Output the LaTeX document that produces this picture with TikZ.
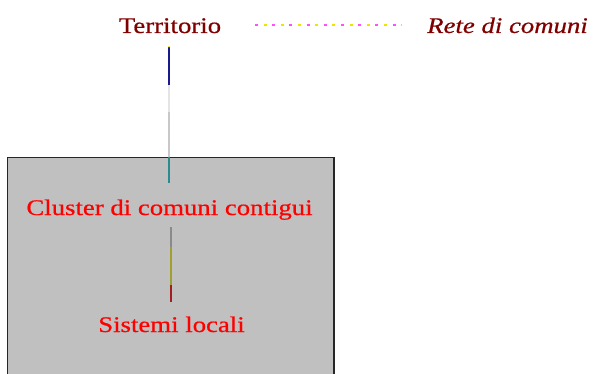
\documentclass[tikz,border=0pt]{standalone}
\usepackage{fontspec}
\setmainfont[FakeStretch=1.2,FakeBold=0.6]{Liberation Serif}
\definecolor{boxgray}{HTML}{C0C0C0}
\definecolor{dred}{HTML}{800000}
\definecolor{navyline}{HTML}{1A1A8C}
\definecolor{pale}{HTML}{E4E4E4}
\definecolor{midgray}{HTML}{C8C8C8}
\definecolor{tealline}{HTML}{2A8C8C}
\definecolor{grayline}{HTML}{8A8A8A}
\definecolor{oliveline}{HTML}{A0A030}
\definecolor{redline}{HTML}{A02020}
\definecolor{magdot}{HTML}{FF50FF}
\definecolor{yeldot}{HTML}{E8E800}
\tikzset{
  lbl/.style={inner sep=0pt, anchor=base, font=\fontsize{22.3}{24}\selectfont},
  seg/.style={line width=1.4pt},
}
\begin{document}
\begin{tikzpicture}[x=1pt,y=-1pt]
\useasboundingbox (0,0) rectangle (596,374);
\fill[white] (0,0) rectangle (596,374);
\begin{scope}
\clip (0,0) rectangle (596,374);
\draw[fill=boxgray, draw=black!85, line width=1.3pt] (7.5,157.3) rectangle (334,390);
\end{scope}
% nodes
\node[lbl, text=dred] (terr) at (170,33) {Territorio};
\node[lbl, text=dred, font=\fontsize{22.3}{24}\selectfont\itshape] (rete) at (507.5,33) {Rete di comuni};
\node[lbl, text=red] (clus) at (169.5,215) {Cluster di comuni contigui};
\node[lbl, text=red] (sis) at (171.5,332) {Sistemi locali};
% coordinates
\coordinate (t0) at (169,46.7);
\coordinate (t1) at (169,85);
\coordinate (t2) at (169,112);
\coordinate (t3) at (169,157);
\coordinate (t4) at (169,183);
\coordinate (c0) at (171,227);
\coordinate (c1) at (171,247);
\coordinate (c2) at (171,285);
\coordinate (c3) at (171,302);
\coordinate (r0) at (255,25);
\coordinate (r1) at (402,25);
% Territorio -> Cluster
\draw[seg, navyline] (t0) -- (t1);
\draw[seg, pale] (t1) -- (t2);
\draw[seg, midgray, line width=2pt] (t2) -- (t3);
\draw[seg, tealline] (t3) -- (t4);
\fill[yeldot] (t0) circle (0.9pt);
% Cluster -> Sistemi
\draw[seg, grayline] (c0) -- (c1);
\draw[seg, oliveline] (c1) -- (c2);
\draw[seg, redline] (c2) -- (c3);
% Territorio ... Rete
\draw[line width=1.3pt, magdot, dash pattern=on 3pt off 14.2pt] (r0) -- (r1);
\draw[line width=1.3pt, yeldot, dash pattern=on 3pt off 14.2pt, dash phase=-8.6pt] (r0) -- (r1);
\end{tikzpicture}
\end{document}
